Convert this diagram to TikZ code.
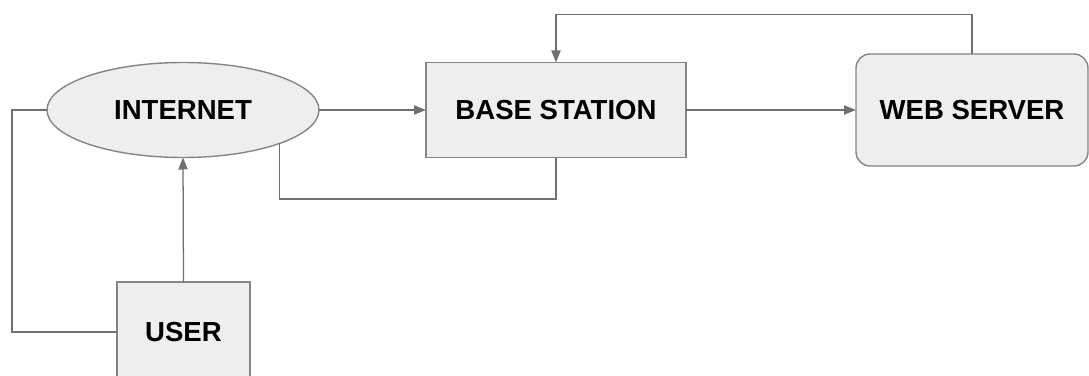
\documentclass[tikz,border=0pt]{standalone}
\usepackage{fontspec}
\setmainfont{Liberation Sans}
\usetikzlibrary{arrows.meta,shapes.geometric}
\definecolor{boxfill}{HTML}{EEEEEE}
\definecolor{boxline}{HTML}{858585}
\definecolor{wire}{HTML}{707070}
\begin{document}
\begin{tikzpicture}[
        block/.style={draw=boxline, line width=1pt, fill=boxfill, inner sep=0pt, outer sep=0pt,
            font=\fontsize{19.6}{23}\selectfont\bfseries},
        wireline/.style={draw=wire, line width=0.9pt},
        wirearrow/.style={wireline, -{Triangle[length=3mm,width=2.3mm]}}
    ]
        % Page size
        \useasboundingbox (0,0) rectangle (27.225,9.375);

        % Nodes
        \node[block, ellipse, minimum width=6.8cm, minimum height=2.375cm] (internet) at (4.575,6.625) {INTERNET};
        \node[block, rectangle, minimum width=6.5cm, minimum height=2.375cm] (base) at (13.9,6.625) {BASE STATION};
        \node[block, rectangle, rounded corners=0.35cm, minimum width=5.8cm, minimum height=2.8cm] (web) at (24.3,6.625) {WEB SERVER};
        \node[block, rectangle, minimum width=3.325cm, minimum height=2.5cm] (user) at (4.5875,1.075) {USER};

        % Helper coordinates for the loops
        \coordinate (leftx) at (0.3,0);
        \coordinate (lowy) at (0,4.4);

        % Main flow
        \draw[wirearrow] (internet.east) -- (base.west);
        \draw[wirearrow] (base.east) -- (web.west);
        \draw[wirearrow] (user.north) -- (internet.south);

        % Feedback from the web server
        \draw[wirearrow] (web.north) |- ([yshift=1.2cm]base.north) -- (base.north);

        % Base station back to the internet
        \draw[wireline] (base.south) |- (internet.-19.3 |- lowy) -- (internet.-19.3);

        % User to the internet on the left
        \draw[wireline] (user.west) -| (leftx |- internet.west) -- (internet.west);
    \end{tikzpicture}
\end{document}
